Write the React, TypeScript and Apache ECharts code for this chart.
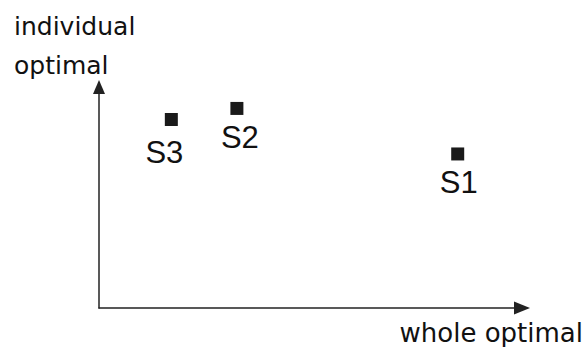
import React, { useEffect, useRef } from "react";
import * as echarts from "echarts";

const names = ["S1", "S2", "S3"];
const xValues = [84.8, 32.6, 17.1];
const yValues = [69.7, 90.3, 85.3];
const xTitle = "whole optimal";
const yTitleLines = ["individual", "optimal"];

export default function App() {
  const ref = useRef<HTMLDivElement>(null);
  useEffect(() => {
    const chart = echarts.init(ref.current!, null, { renderer: "svg" });
    const labelOffsets: Record<string, number[]> = { S1: [1, 0], S2: [3, 0], S3: [-7, 4] };
    const axisColor = "#222";
    const titleFont = "'DejaVu Sans', sans-serif";
    chart.setOption({
      animation: false,
      grid: { left: 99, right: 64, top: 87, bottom: 39 },
      xAxis: {
        type: "value",
        min: 0,
        max: 100,
        axisLine: {
          show: true,
          symbol: ["none", "triangle"],
          symbolSize: [13, 16],
          lineStyle: { color: axisColor, width: 1.5 },
        },
        axisTick: { show: false },
        axisLabel: { show: false },
        splitLine: { show: false },
      },
      yAxis: {
        type: "value",
        min: 0,
        max: 100,
        axisLine: {
          show: true,
          symbol: ["none", "triangle"],
          symbolSize: [12, 14],
          lineStyle: { color: axisColor, width: 1.5 },
        },
        axisTick: { show: false },
        axisLabel: { show: false },
        splitLine: { show: false },
      },
      graphic: [
        {
          type: "text",
          style: {
            text: yTitleLines.join("\n"),
            x: 14,
            y: 6.5,
            fontSize: 25,
            fontFamily: titleFont,
            lineHeight: 39,
            fill: "#111",
            verticalAlign: "top",
            align: "left",
          },
        },
        {
          type: "text",
          style: {
            text: xTitle,
            x: 583,
            y: 332.7,
            fontSize: 26,
            fontFamily: titleFont,
            fill: "#111",
            verticalAlign: "middle",
            align: "right",
          },
        },
      ],
      series: [
        {
          type: "scatter",
          symbol: "rect",
          symbolSize: 13,
          itemStyle: { color: "#1a1a1a", opacity: 1 },
          data: names.map((n, i) => ({
            name: n,
            value: [xValues[i], yValues[i]],
            label: { offset: labelOffsets[n] },
          })),
          label: {
            show: true,
            position: "bottom",
            distance: 7,
            formatter: "{b}",
            color: "#111",
            opacity: 1,
            fontSize: 31,
            fontFamily: "'Liberation Sans Narrow', 'Liberation Sans', sans-serif",
          },
        },
      ],
    });
    return () => chart.dispose();
  }, []);
  return (
    <div
      ref={ref}
      style={{ position: "absolute", left: 0, top: 0, width: 586, height: 347 }}
    />
  );
}
